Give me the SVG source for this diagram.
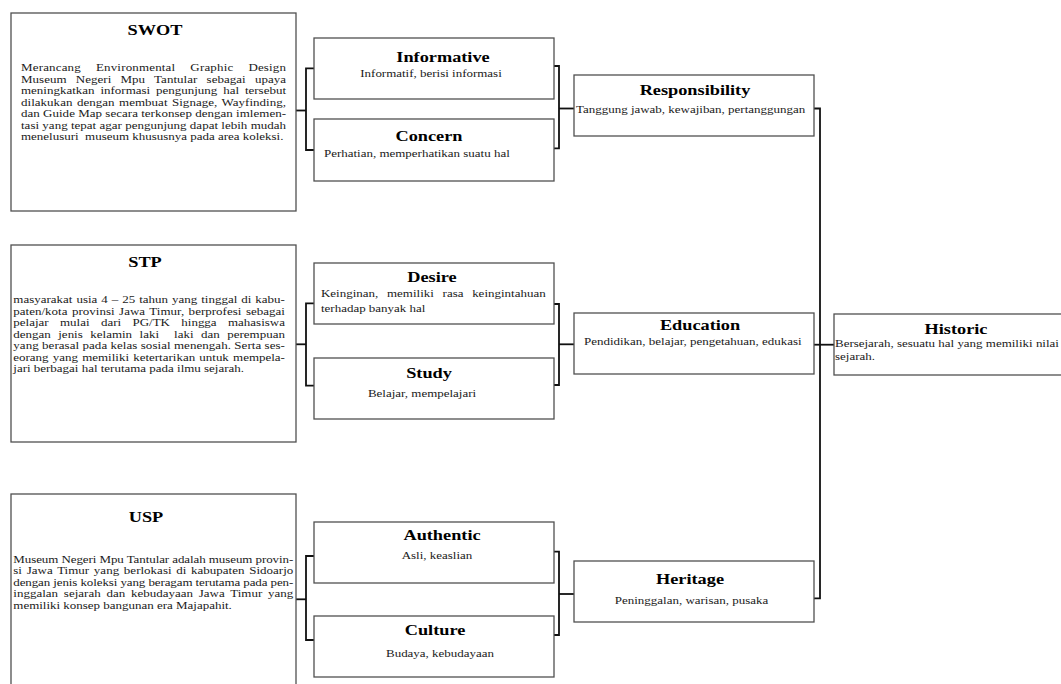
<svg xmlns="http://www.w3.org/2000/svg" width="1061" height="684" viewBox="0 0 1061 684">
<style>
.box{fill:#fff;stroke:#505050;stroke-width:1.3}
.conn{fill:none;stroke:#111;stroke-width:1.8}
.t{font-family:"Liberation Serif","Times New Roman",serif;font-size:11px;fill:#1a1a1a}
.h{font-family:"Liberation Serif","Times New Roman",serif;font-size:15.5px;font-weight:bold;fill:#000;text-anchor:middle}
.c{text-anchor:middle}
</style>
<rect x="0" y="0" width="1061" height="684" fill="#fff"/>
<g id="connectors">
<line class="conn" x1="296" y1="110.5" x2="306" y2="110.5"/>
<path class="conn" d="M314,68.3 H306 V150 H314"/>
<path class="conn" d="M554,66 H559 V148.3 H554"/>
<line class="conn" x1="559" y1="108.5" x2="574" y2="108.5"/>
<line class="conn" x1="296" y1="344.3" x2="306" y2="344.3"/>
<path class="conn" d="M314,303.3 H306 V385.7 H314"/>
<path class="conn" d="M554,304 H559 V385 H554"/>
<line class="conn" x1="559" y1="344.3" x2="574" y2="344.3"/>
<line class="conn" x1="296" y1="599.3" x2="306" y2="599.3"/>
<path class="conn" d="M314,556 H306 V640 H314"/>
<path class="conn" d="M554,551.7 H559 V635 H554"/>
<line class="conn" x1="559" y1="594" x2="574" y2="594"/>
<path class="conn" d="M814,108.5 H820 V598.3 H814"/>
<line class="conn" x1="814" y1="344.7" x2="834" y2="344.7"/>
</g>
<g id="swot">
<rect class="box" x="11" y="13" width="285" height="198"/>
<text class="h" transform="translate(155 35) scale(1.18 1)">SWOT</text>
<text class="t" transform="translate(21 71) scale(1.18 1)" style="word-spacing:9.8px" textLength="224.6" lengthAdjust="spacing">Merancang Environmental Graphic Design</text>
<text class="t" transform="translate(21 82.5) scale(1.18 1)" style="word-spacing:5px" textLength="224.6" lengthAdjust="spacing">Museum Negeri Mpu Tantular sebagai upaya</text>
<text class="t" transform="translate(21 94) scale(1.18 1)" style="word-spacing:2.2px" textLength="224.6" lengthAdjust="spacing">meningkatkan informasi pengunjung hal tersebut</text>
<text class="t" transform="translate(21 105.5) scale(1.18 1)" style="word-spacing:1px" textLength="224.6" lengthAdjust="spacing">dilakukan dengan membuat Signage, Wayfinding,</text>
<text class="t" transform="translate(21 117) scale(1.18 1)" textLength="224.6" lengthAdjust="spacing">dan Guide Map secara terkonsep dengan imlemen-</text>
<text class="t" transform="translate(21 128.5) scale(1.18 1)" textLength="224.6" lengthAdjust="spacing">tasi yang tepat agar pengunjung dapat lebih mudah</text>
<text class="t" transform="translate(21 140) scale(1.18 1)" xml:space="preserve">menelusuri  museum khususnya pada area koleksi.</text>
</g>
<g id="stp">
<rect class="box" x="11" y="245" width="285" height="197"/>
<text class="h" transform="translate(145 267) scale(1.18 1)">STP</text>
<text class="t" transform="translate(13.3 303) scale(1.18 1)" style="word-spacing:0.6px" textLength="230.2" lengthAdjust="spacing">masyarakat usia 4 – 25 tahun yang tinggal di kabu-</text>
<text class="t" transform="translate(13.3 314.5) scale(1.18 1)" style="word-spacing:1px" textLength="230.2" lengthAdjust="spacing">paten/kota provinsi Jawa Timur, berprofesi sebagai</text>
<text class="t" transform="translate(13.3 326) scale(1.18 1)" style="word-spacing:6.9px" textLength="230.2" lengthAdjust="spacing">pelajar mulai dari PG/TK hingga mahasiswa</text>
<text class="t" transform="translate(13.3 337.5) scale(1.18 1)" style="word-spacing:3.6px" textLength="230.2" lengthAdjust="spacing" xml:space="preserve">dengan jenis kelamin laki  laki dan perempuan</text>
<text class="t" transform="translate(13.3 349) scale(1.18 1)" textLength="230.2" lengthAdjust="spacing">yang berasal pada kelas sosial menengah. Serta ses-</text>
<text class="t" transform="translate(13.3 360.5) scale(1.18 1)" style="word-spacing:0.8px" textLength="230.2" lengthAdjust="spacing">eorang yang memiliki ketertarikan untuk mempela-</text>
<text class="t" transform="translate(13.3 372) scale(1.18 1)">jari berbagai hal terutama pada ilmu sejarah.</text>
</g>
<g id="usp">
<rect class="box" x="11" y="494" width="285" height="210"/>
<text class="h" transform="translate(146 522) scale(1.18 1)">USP</text>
<text class="t" transform="translate(13.3 562.5) scale(1.18 1)" textLength="237.3" lengthAdjust="spacing">Museum Negeri Mpu Tantular adalah museum provin-</text>
<text class="t" transform="translate(13.3 574) scale(1.18 1)" style="word-spacing:1.2px" textLength="237.3" lengthAdjust="spacing">si Jawa Timur yang berlokasi di kabupaten Sidoarjo</text>
<text class="t" transform="translate(13.3 585.5) scale(1.18 1)" textLength="237.3" lengthAdjust="spacing">dengan jenis koleksi yang beragam terutama pada pen-</text>
<text class="t" transform="translate(13.3 597) scale(1.18 1)" style="word-spacing:2.1px" textLength="237.3" lengthAdjust="spacing">inggalan sejarah dan kebudayaan Jawa Timur yang</text>
<text class="t" transform="translate(13.3 608.5) scale(1.18 1)">memiliki konsep bangunan era Majapahit.</text>
</g>
<g id="informative">
<rect class="box" x="314" y="38" width="240" height="61"/>
<text class="h" transform="translate(443 62) scale(1.18 1)">Informative</text>
<text class="t c" transform="translate(431 77) scale(1.18 1)">Informatif, berisi informasi</text>
</g>
<g id="concern">
<rect class="box" x="314" y="119" width="240" height="62"/>
<text class="h" transform="translate(429 141) scale(1.18 1)">Concern</text>
<text class="t" transform="translate(324 157) scale(1.18 1)">Perhatian, memperhatikan suatu hal</text>
</g>
<g id="desire">
<rect class="box" x="314" y="263" width="240" height="61"/>
<text class="h" transform="translate(432 282) scale(1.18 1)">Desire</text>
<text class="t" transform="translate(321 296.5) scale(1.18 1)" style="word-spacing:4.6px" textLength="190.4" lengthAdjust="spacing">Keinginan, memiliki rasa keingintahuan</text>
<text class="t" transform="translate(321 312) scale(1.18 1)">terhadap banyak hal</text>
</g>
<g id="study">
<rect class="box" x="314" y="358" width="240" height="61"/>
<text class="h" transform="translate(429 378) scale(1.18 1)">Study</text>
<text class="t c" transform="translate(422 397) scale(1.18 1)">Belajar, mempelajari</text>
</g>
<g id="authentic">
<rect class="box" x="314" y="522" width="240" height="61"/>
<text class="h" transform="translate(442 540) scale(1.18 1)">Authentic</text>
<text class="t c" transform="translate(437 559) scale(1.18 1)">Asli, keaslian</text>
</g>
<g id="culture">
<rect class="box" x="314" y="616" width="240" height="61"/>
<text class="h" transform="translate(435 635) scale(1.18 1)">Culture</text>
<text class="t c" transform="translate(440 656.5) scale(1.18 1)">Budaya, kebudayaan</text>
</g>
<g id="responsibility">
<rect class="box" x="574" y="75" width="240" height="61"/>
<text class="h" transform="translate(695 95) scale(1.18 1)">Responsibility</text>
<text class="t" transform="translate(576 113) scale(1.18 1)">Tanggung jawab, kewajiban, pertanggungan</text>
</g>
<g id="education">
<rect class="box" x="574" y="313" width="240" height="61"/>
<text class="h" transform="translate(700 330) scale(1.18 1)">Education</text>
<text class="t" transform="translate(584 345) scale(1.18 1)">Pendidikan, belajar, pengetahuan, edukasi</text>
</g>
<g id="heritage">
<rect class="box" x="574" y="561" width="240" height="61"/>
<text class="h" transform="translate(690 584) scale(1.18 1)">Heritage</text>
<text class="t c" transform="translate(691.5 604) scale(1.18 1)">Peninggalan, warisan, pusaka</text>
</g>
<g id="historic">
<rect class="box" x="834" y="314" width="260" height="61"/>
<text class="h" transform="translate(956 334) scale(1.18 1)">Historic</text>
<text class="t" transform="translate(835 347) scale(1.18 1)">Bersejarah, sesuatu hal yang memiliki nilai</text>
<text class="t" transform="translate(835 360) scale(1.18 1)">sejarah.</text>
</g>
</svg>
